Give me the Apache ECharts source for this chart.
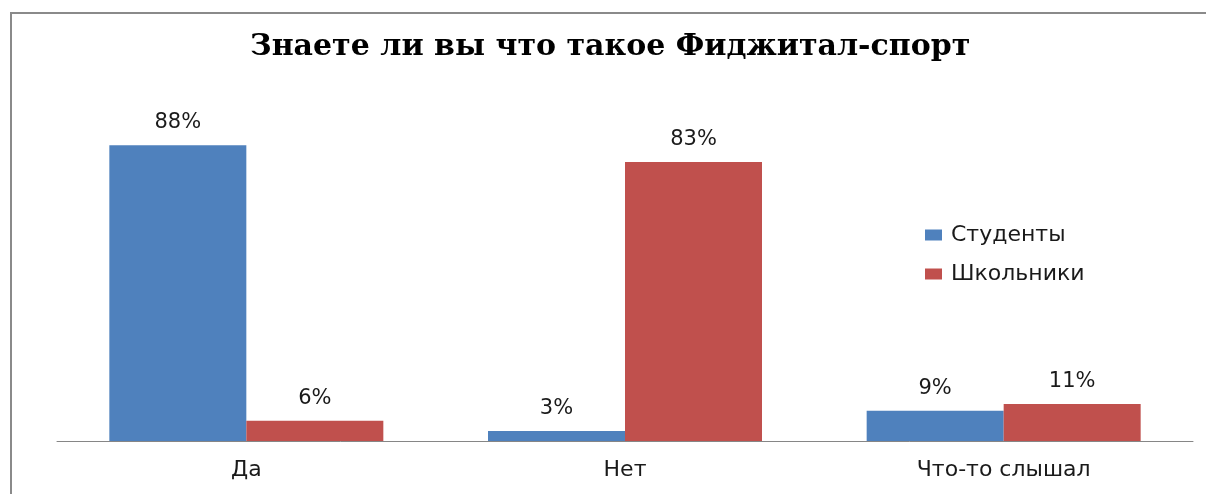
<!DOCTYPE html>
<html>
<head>
<meta charset="utf-8">
<script src="https://cdn.jsdelivr.net/npm/echarts@6/dist/echarts.min.js"></script>
<style>
html, body { margin: 0; padding: 0; background: #fff; }
#chart { width: 1206px; height: 494px; }
</style>
</head>
<body>
<div id="chart"></div>
<script>
// данные опроса
var categories = ['Да', 'Нет', 'Что-то слышал'];
var students = [88, 3, 9];
var pupils = [6, 83, 11];

var labelStyle = {
	show: true,
	position: 'top',
	distance: 12,
	formatter: '{c}%',
	color: '#1a1a1a',
	fontFamily: 'DejaVu Sans',
	fontSize: 21
};

var myChart = echarts.init(document.getElementById('chart'));
myChart.setOption({
	animation: false,
	color: ['#4F81BD', '#C0504D'],
	title: {
		text: 'Знаете ли вы что такое Фиджитал-спорт',
		left: 250,
		top: 32,
		padding: 0,
		textStyle: {
			fontFamily: 'DejaVu Serif',
			fontWeight: 'bold',
			fontSize: 30,
			color: '#000'
		}
	},
	legend: {
		orient: 'vertical',
		left: 925,
		top: 224,
		padding: 0,
		itemWidth: 17,
		itemHeight: 11,
		itemGap: 17,
		icon: 'rect',
		textStyle: {
			fontFamily: 'DejaVu Sans',
			fontSize: 22,
			color: '#1a1a1a',
			padding: [0, 0, 0, 4]
		},
		data: ['Студенты', 'Школьники']
	},
	grid: {
		left: 57,
		right: 13,
		top: 105,
		bottom: 53
	},
	xAxis: {
		type: 'category',
		data: categories,
		axisLine: { lineStyle: { color: '#868686', width: 1 } },
		axisTick: { show: false },
		axisLabel: {
			margin: 18,
			fontFamily: 'DejaVu Sans',
			fontSize: 22,
			color: '#1a1a1a'
		}
	},
	yAxis: {
		type: 'value',
		min: 0,
		max: 100,
		show: false
	},
	graphic: [{
		type: 'rect',
		shape: { x: 11, y: 13, width: 1200, height: 500 },
		style: { fill: 'none', stroke: '#8a8a8a', lineWidth: 2 },
		silent: true
	}],
	series: [
		{
			name: 'Студенты',
			type: 'bar',
			data: students,
			barWidth: 137,
			barGap: '0%',
			label: labelStyle
		},
		{
			name: 'Школьники',
			type: 'bar',
			data: pupils,
			barWidth: 137,
			barGap: '0%',
			label: labelStyle
		}
	]
});
</script>
</body>
</html>
